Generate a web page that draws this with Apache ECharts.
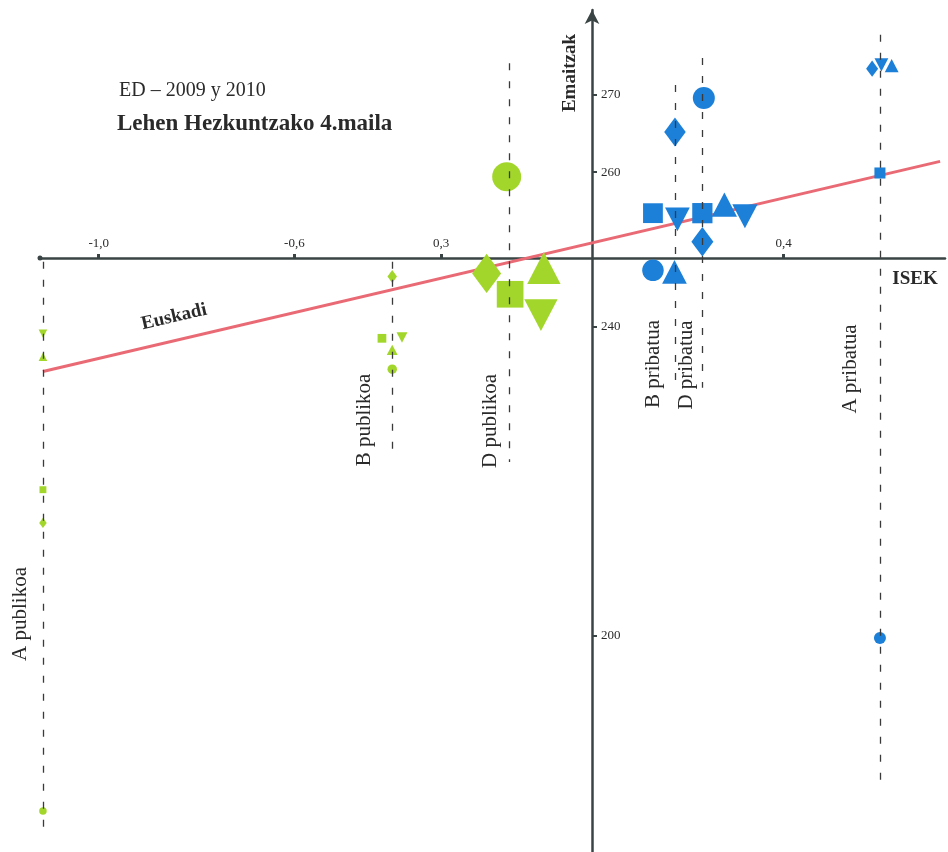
<!DOCTYPE html>
<html lang="eu">
<head>
<meta charset="UTF-8">
<title>ED - 2009 y 2010</title>
<style>html,body{margin:0;padding:0;background:#fff;}</style>
</head>
<body>
<div id="main" style="width:948px;height:852px;"></div>
<script src="https://cdn.jsdelivr.net/npm/echarts@6/dist/echarts.min.js"></script>
<script>
// school groups (model + network), one point of each shape per group
var groups = ['A publikoa', 'B publikoa', 'D publikoa', 'B pribatua', 'D pribatua', 'A pribatua'];

// ISEK (x) and Emaitzak (y) per marker shape
var circleX = [-1.114, -0.40, -0.166, 0.133, 0.237, 0.597];
var circleY = [177.3, 234.5, 259.4, 247.3, 269.6, 199.7];
var squareX = [-1.114, -0.421, -0.159, 0.133, 0.234, 0.597];
var squareY = [218.9, 238.5, 244.2, 254.7, 254.7, 259.9];
var diamondX = [-1.114, -0.40, -0.207, 0.178, 0.234, 0.581];
var diamondY = [214.6, 246.5, 246.9, 265.2, 251.0, 273.4];
var triUpX = [-1.114, -0.40, -0.090, 0.177, 0.279, 0.621];
var triUpY = [236.1, 237.0, 247.6, 247.1, 255.8, 273.8];
var triDownX = [-1.114, -0.38, -0.096, 0.183, 0.321, 0.600];
var triDownY = [239.1, 238.6, 241.5, 253.9, 254.3, 273.9];

// dashed guide per group
var guideX = [-1.114, -0.40, -0.161, 0.178, 0.234, 0.597];
var guideTop = [248.4, 248.4, 274.1, 271.3, 274.8, 277.8];
var guideBottom = [174.9, 223.4, 222.5, 231.8, 232.1, 181.1];

// Euskadi regression line
var euskadiX = [-1.114, 0.72];
var euskadiY = [234.2, 261.4];

// axis ticks
var xTickValues = [-1.0, -0.6, -0.3, 0.4];
var xTickLabels = ['-1,0', '-0,6', '0,3', '0,4'];
var yTickValues = [200, 240, 260, 270];

// ---- styles ----
var green = '#a3d62b', blue = '#1c7fd8';
var groupColor = [green, green, green, blue, blue, blue];
var baseSize = [7.5, 9.5, 29, 21.5, 22, 12];
var axisColor = '#3b4444';
var serif = 'Liberation Serif';

var shapes = [
    {name: 'circle', symbol: 'circle', xs: circleX, ys: circleY, k: [1, 1], rot: 0},
    {name: 'square', symbol: 'rect', xs: squareX, ys: squareY, k: [0.92, 0.92], rot: 0},
    {name: 'diamond', symbol: 'diamond', xs: diamondX, ys: diamondY, k: [1.0, 1.35], rot: 0},
    {name: 'triangle', symbol: 'triangle', xs: triUpX, ys: triUpY, k: [1.15, 1.1], rot: 0},
    {name: 'triangle down', symbol: 'triangle', xs: triDownX, ys: triDownY, k: [1.15, 1.1], rot: 180}
];

var myChart = echarts.init(document.getElementById('main'));

var series = [{
    name: 'Euskadi',
    type: 'line',
    data: euskadiX.map(function (x, i) { return [x, euskadiY[i]]; }),
    symbol: 'none',
    lineStyle: {color: '#e96a74', width: 3},
    z: 1,
    markLine: {
        silent: true,
        symbol: 'none',
        label: {show: false},
        lineStyle: {color: '#3a3a3a', width: 1.3, type: [7, 11]},
        data: guideX.map(function (x, i) {
            return [{coord: [x, guideTop[i]]}, {coord: [x, guideBottom[i]]}];
        })
    }
}];

shapes.forEach(function (s) {
    series.push({
        name: s.name,
        type: 'scatter',
        symbol: s.symbol,
        symbolRotate: s.rot,
        data: s.xs.map(function (x, i) { return [x, s.ys[i], i]; }),
        symbolSize: function (v) {
            var b = baseSize[v[2]];
            return [b * s.k[0], b * s.k[1]];
        },
        itemStyle: {
            opacity: 1,
            color: function (p) { return groupColor[p.data[2]]; }
        },
        z: 3
    });
});

function groupLabel(text, x, y) {
    return {
        type: 'text', x: x, y: y, rotation: Math.PI / 2,
        style: {text: text, fill: '#2a2a2a', font: '21px "' + serif + '"', align: 'center', verticalAlign: 'middle'}
    };
}

var option = {
    backgroundColor: '#ffffff',
    animation: false,
    grid: {left: 40, right: 3, top: 10, bottom: 0, containLabel: false, outerBoundsMode: 'none'},
    xAxis: {
        type: 'value',
        min: -1.12,
        max: 0.73,
        position: 'bottom',
        offset: -594,
        axisLine: {onZero: false, lineStyle: {color: axisColor, width: 2.5}, symbol: ['circle', 'none'], symbolSize: [5, 5]},
        axisTick: {inside: true, length: 4, lineStyle: {width: 3, color: axisColor}, customValues: xTickValues},
        axisLabel: {
            inside: true, margin: 8, color: '#2a2a2a', fontFamily: serif, fontSize: 13,
            customValues: xTickValues,
            formatter: function (v) {
                var best = 0;
                xTickValues.forEach(function (t, i) {
                    if (Math.abs(t - v) < Math.abs(xTickValues[best] - v)) best = i;
                });
                return xTickLabels[best];
            }
        },
        splitLine: {show: false}
    },
    yAxis: {
        type: 'value',
        min: 172,
        max: 281,
        position: 'left',
        offset: -552,
        axisLine: {onZero: false, lineStyle: {color: axisColor, width: 2.5}, symbol: ['none', 'arrow'], symbolSize: [11, 14]},
        axisTick: {inside: true, length: 5, lineStyle: {width: 2, color: axisColor}, customValues: yTickValues},
        axisLabel: {inside: true, margin: 9, color: '#2a2a2a', fontFamily: serif, fontSize: 13, customValues: yTickValues},
        splitLine: {show: false}
    },
    graphic: [
        {type: 'text', left: 119, top: 81, style: {text: 'ED – 2009 y 2010', fill: '#2a2a2a', font: '20px "' + serif + '"'}},
        {type: 'text', left: 117, top: 113, style: {text: 'Lehen Hezkuntzako 4.maila', fill: '#2a2a2a', font: 'bold 23px "' + serif + '"'}},
        {type: 'text', x: 570, y: 73, rotation: Math.PI / 2,
            style: {text: 'Emaitzak', fill: '#2a2a2a', font: 'bold 19px "' + serif + '"', align: 'center', verticalAlign: 'middle'}},
        {type: 'text', x: 915, y: 279,
            style: {text: 'ISEK', fill: '#2a2a2a', font: 'bold 19px "' + serif + '"', align: 'center', verticalAlign: 'middle'}},
        {type: 'text', x: 174, y: 317, rotation: 13 * Math.PI / 180,
            style: {text: 'Euskadi', fill: '#2a2a2a', font: 'bold 19px "' + serif + '"', align: 'center', verticalAlign: 'middle'}},
        groupLabel('A publikoa', 20, 614),
        groupLabel('B publikoa', 364, 420),
        groupLabel('D publikoa', 490, 421),
        groupLabel('B pribatua', 653, 364),
        groupLabel('D pribatua', 686, 365),
        groupLabel('A pribatua', 850, 369)
    ],
    series: series
};

myChart.setOption(option);
</script>
</body>
</html>
